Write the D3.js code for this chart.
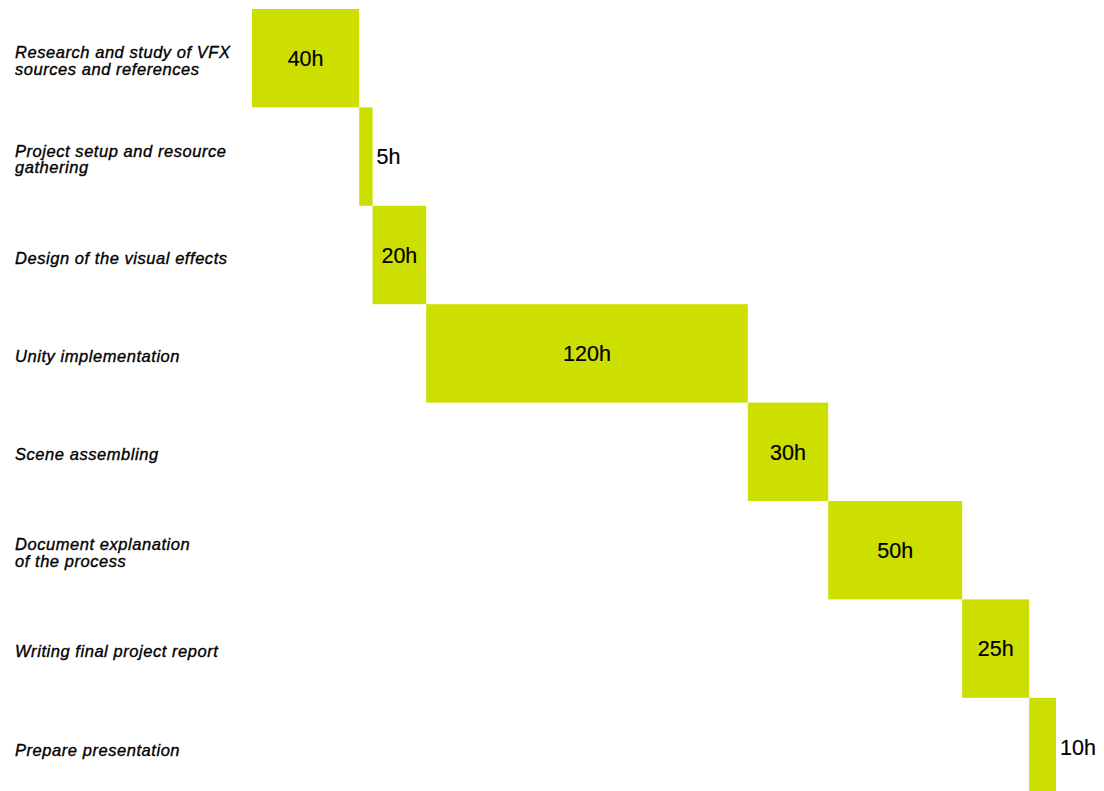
<!DOCTYPE html>
<html>
<head>
<meta charset="utf-8">
<script src="https://cdn.jsdelivr.net/npm/d3@7"></script>
<style>
  body { margin: 0; background: #fff; }
  svg { display: block; }
</style>
</head>
<body>
<svg id="canvas" width="1104" height="791"></svg>
<script>
// task names, one entry per row (\n splits a label into lines)
let tasks = [
  'Research and study of VFX\nsources and references',
  'Project setup and resource\ngathering',
  'Design of the visual effects',
  'Unity implementation',
  'Scene assembling',
  'Document explanation\nof the process',
  'Writing final project report',
  'Prepare presentation'
]
// hours spent on each task
let hours = [40, 5, 20, 120, 30, 50, 25, 10]

let canvas = d3.select('#canvas')

// each task starts where the previous one ended
let starts = []
let total = 0
hours.forEach((h) => {
  starts.push(total)
  total += h
})

let rows = tasks.map((t, i) => {
  return { task: t, hours: hours[i], start: starts[i] }
})

let xScale = d3.scaleLinear()
  .domain([0, total])
  .range([252, 1056])

let yScale = d3.scaleBand()
  .domain(tasks)
  .range([9, 9 + 98.4 * tasks.length])
  .paddingInner(0)

let block = canvas.selectAll('g.row')
  .data(rows)
  .enter()
  .append('g')
  .attr('class', 'row')

block.append('rect')
  .attr('x', (d) => xScale(d.start))
  .attr('y', (d) => yScale(d.task))
  .attr('width', (d) => xScale(d.start + d.hours) - xScale(d.start))
  .attr('height', yScale.bandwidth())
  .attr('fill', '#cddf00')

// value labels: centred inside wide bars, right of the narrow ones
block.append('text')
  .text((d) => d.hours + 'h')
  .attr('x', (d) => {
    let w = xScale(d.start + d.hours) - xScale(d.start)
    if (w > 45) {
      return xScale(d.start) + w / 2
    }
    return xScale(d.start + d.hours) + 4
  })
  .attr('text-anchor', (d) => {
    let w = xScale(d.start + d.hours) - xScale(d.start)
    return w > 45 ? 'middle' : 'start'
  })
  .attr('y', (d) => yScale(d.task) + yScale.bandwidth() / 2)
  .attr('dy', '0.36em')
  .style('font-family', '"Liberation Sans", Arial, sans-serif')
  .style('font-size', '21.5px')
  .style('fill', '#000')
  .style('stroke', '#000')
  .style('stroke-width', '0.2px')

// task labels on the left
let label = block.append('text')
  .attr('x', 15)
  .attr('y', (d) => yScale(d.task) + yScale.bandwidth() / 2 + 3)
  .style('font-family', '"Liberation Sans", Arial, sans-serif')
  .style('font-size', '16.5px')
  .style('font-style', 'italic')
  .style('letter-spacing', '0.55px')
  .style('fill', '#000')
  .style('stroke', '#000')
  .style('stroke-width', '0.35px')

label.each(function (d) {
  let lines = d.task.split('\n')
  let lineH = 16.5
  let first = -(lines.length - 1) * lineH / 2
  d3.select(this).selectAll('tspan')
    .data(lines)
    .enter()
    .append('tspan')
    .attr('x', 15)
    .attr('dy', (l, i) => i === 0 ? (first + 5.5) + 'px' : lineH + 'px')
    .text((l) => l)
})
</script>
</body>
</html>
